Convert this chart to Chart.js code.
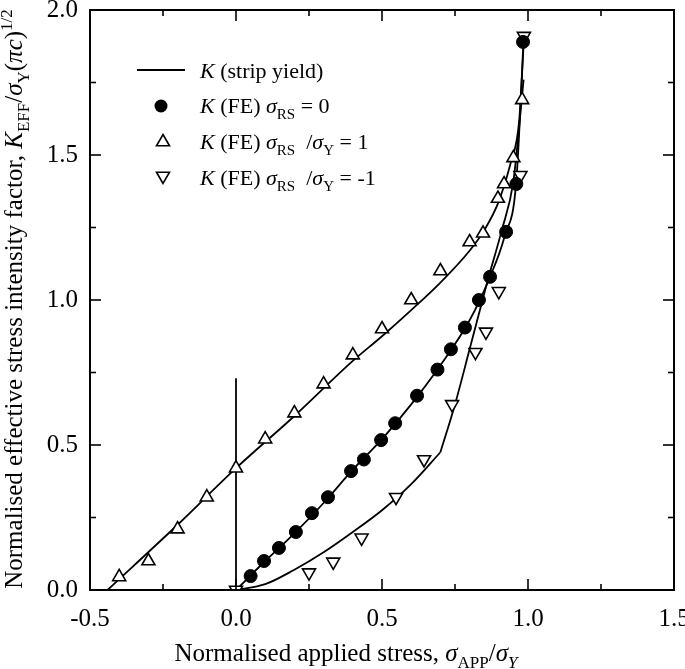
<!DOCTYPE html>
<html lang="en">
<head>
<meta charset="UTF-8">
<title>Normalised effective stress intensity factor</title>
<script src="https://cdn.jsdelivr.net/npm/chart.js@4.4.1/dist/chart.umd.min.js"></script>
<style>
  html, body { margin: 0; padding: 0; background: #fff; }
  canvas { display: block; }
</style>
</head>
<body>
<canvas id="chart" width="685" height="669"></canvas>
<script>
// axis ticks
const xTicks = [-0.5, 0.0, 0.5, 1.0, 1.5];
const yTicks = [0.0, 0.5, 1.0, 1.5, 2.0];

// K (strip yield) curves
const stripPosX = [-0.44, -0.2, 0.0, 0.2, 0.4, 0.5, 0.6, 0.7, 0.8, 0.85, 0.9, 0.94, 0.97, 0.985];
const stripPosY = [0.0, 0.225, 0.42, 0.6, 0.79, 0.875, 0.965, 1.06, 1.17, 1.24, 1.34, 1.47, 1.62, 1.88];

const stripZeroX = [0.0, 0.1, 0.2, 0.3, 0.4, 0.5, 0.6, 0.7, 0.8, 0.87, 0.92, 0.96, 0.985];
const stripZeroY = [0.0, 0.1, 0.195, 0.3, 0.415, 0.52, 0.64, 0.775, 0.93, 1.08, 1.22, 1.41, 1.9];

// the sigma_RS/sigma_Y = -1 curve has a corner at about 0.7, kept as two pieces
const stripNegLowX = [0.0, 0.1, 0.2, 0.3, 0.4, 0.5, 0.6, 0.7];
const stripNegLowY = [0.0, 0.02, 0.07, 0.13, 0.2, 0.275, 0.365, 0.475];
const stripNegHighX = [0.7, 0.75, 0.8, 0.86, 0.91, 0.95, 0.985];
const stripNegHighY = [0.475, 0.64, 0.83, 1.06, 1.24, 1.41, 1.76];

// vertical line at zero applied stress
const guideX = [0.0, 0.0];
const guideY = [0.0, 0.73];

// K (FE) sigma_RS = 0
const feZeroX = [0.05, 0.096, 0.147, 0.205, 0.26, 0.315, 0.394, 0.438, 0.497, 0.545, 0.62, 0.69, 0.736, 0.784, 0.832, 0.87, 0.925, 0.96, 0.983];
const feZeroY = [0.048, 0.10, 0.145, 0.20, 0.265, 0.32, 0.41, 0.45, 0.517, 0.575, 0.67, 0.76, 0.83, 0.905, 1.00, 1.08, 1.235, 1.40, 1.89];

// K (FE) sigma_RS / sigma_Y = 1
const fePosX = [-0.40, -0.30, -0.20, -0.10, 0.00, 0.10, 0.20, 0.30, 0.40, 0.50, 0.60, 0.70, 0.80, 0.846, 0.897, 0.918, 0.95, 0.98];
const fePosY = [0.045, 0.10, 0.21, 0.32, 0.42, 0.52, 0.61, 0.71, 0.81, 0.90, 1.00, 1.10, 1.20, 1.23, 1.35, 1.40, 1.49, 1.69];

// K (FE) sigma_RS / sigma_Y = -1
const feNegX = [0.0, 0.25, 0.333, 0.43, 0.548, 0.644, 0.74, 0.82, 0.856, 0.90, 0.974, 0.986];
const feNegY = [0.0, 0.06, 0.097, 0.18, 0.32, 0.45, 0.64, 0.82, 0.89, 1.03, 1.43, 1.91];

const SERIF = '"Liberation Serif", "Times New Roman", serif';

function pts(xs, ys) {
  return xs.map((x, i) => ({ x: x, y: ys[i] }));
}

function curve(label, xs, ys, smooth) {
  return {
    label: label,
    data: pts(xs, ys),
    showLine: true,
    borderColor: '#000',
    borderWidth: 1.8,
    pointRadius: 0,
    cubicInterpolationMode: smooth ? 'monotone' : 'default',
    tension: 0,
  };
}

// draw a run of text pieces with italic / subscript / superscript parts
function drawRuns(ctx, parts, x, y, size, align) {
  const fontFor = p => {
    const small = p.s === 'sub' || p.s === 'isub' || p.s === 'sup';
    const italic = p.s === 'i' || p.s === 'isub';
    return (italic ? 'italic ' : '') + (small ? Math.round(size * 0.66) : size) + 'px ' + SERIF;
  };
  let total = 0;
  for (const p of parts) { ctx.font = fontFor(p); total += ctx.measureText(p.t).width; }
  let cx = align === 'center' ? x - total / 2 : x;
  ctx.textAlign = 'left';
  ctx.textBaseline = 'alphabetic';
  for (const p of parts) {
    ctx.font = fontFor(p);
    let dy = 0;
    if (p.s === 'sub' || p.s === 'isub') dy = size * 0.27;
    if (p.s === 'sup') dy = -size * 0.42;
    ctx.fillText(p.t, cx, y + dy);
    cx += ctx.measureText(p.t).width;
  }
}

function drawTriangle(ctx, x, y, r, down) {
  ctx.beginPath();
  for (let k = 0; k < 3; k++) {
    const a = (down ? Math.PI : 0) + k * 2 * Math.PI / 3;
    const px = x + Math.sin(a) * r, py = y - Math.cos(a) * r;
    if (k === 0) ctx.moveTo(px, py); else ctx.lineTo(px, py);
  }
  ctx.closePath();
  ctx.fillStyle = '#fff';
  ctx.fill();
  ctx.stroke();
}

const paperPlugin = {
  id: 'paper',
  afterDraw(chart) {
    const { ctx, chartArea: a, scales: { x, y } } = chart;
    ctx.save();
    ctx.strokeStyle = '#000';
    ctx.fillStyle = '#000';

    // frame
    ctx.lineWidth = 2;
    ctx.strokeRect(a.left, a.top, a.right - a.left, a.bottom - a.top);

    // inward ticks on all four sides, minor ticks halfway
    ctx.lineWidth = 1.6;
    const seg = (x1, y1, x2, y2) => { ctx.beginPath(); ctx.moveTo(x1, y1); ctx.lineTo(x2, y2); ctx.stroke(); };
    xTicks.forEach((v, i) => {
      const px = x.getPixelForValue(v);
      seg(px, a.bottom, px, a.bottom - 11);
      seg(px, a.top, px, a.top + 11);
      if (i < xTicks.length - 1) {
        const mx = x.getPixelForValue((v + xTicks[i + 1]) / 2);
        seg(mx, a.bottom, mx, a.bottom - 6);
        seg(mx, a.top, mx, a.top + 6);
      }
    });
    yTicks.forEach((v, i) => {
      const py = y.getPixelForValue(v);
      seg(a.left, py, a.left + 11, py);
      seg(a.right, py, a.right - 11, py);
      if (i < yTicks.length - 1) {
        const my = y.getPixelForValue((v + yTicks[i + 1]) / 2);
        seg(a.left, my, a.left + 6, my);
        seg(a.right, my, a.right - 6, my);
      }
    });

    // x axis title
    drawRuns(ctx, [
      { t: 'Normalised applied stress, ' },
      { t: '\u03c3', s: 'i' }, { t: 'APP', s: 'sub' },
      { t: '/' },
      { t: '\u03c3', s: 'i' }, { t: 'Y', s: 'isub' },
    ], 346, 661, 25, 'center');

    // y axis title
    ctx.save();
    ctx.translate(22, 299);
    ctx.rotate(-Math.PI / 2);
    drawRuns(ctx, [
      { t: 'Normalised effective stress intensity factor, ' },
      { t: 'K', s: 'i' }, { t: 'EFF', s: 'sub' },
      { t: '/' },
      { t: '\u03c3', s: 'i' }, { t: 'Y', s: 'sub' },
      { t: '(' }, { t: '\u03c0c', s: 'i' }, { t: ')' },
      { t: '1/2', s: 'sup' },
    ], 0, 0, 25, 'center');
    ctx.restore();

    // legend
    const lx = 163, tx = 200, fs = 22;
    ctx.lineWidth = 1.8;
    seg(137, 70, 185, 70);
    drawRuns(ctx, [{ t: 'K', s: 'i' }, { t: ' (strip yield)' }], tx, 78, fs);

    ctx.beginPath(); ctx.arc(lx - 2, 106, 6.5, 0, Math.PI * 2); ctx.fill();
    drawRuns(ctx, [{ t: 'K', s: 'i' }, { t: ' (FE) ' }, { t: '\u03c3', s: 'i' }, { t: 'RS', s: 'sub' }, { t: ' = 0' }], tx, 113, fs);

    ctx.lineWidth = 1.6;
    drawTriangle(ctx, lx, 142, 7.5, false);
    ctx.fillStyle = '#000';
    drawRuns(ctx, [{ t: 'K', s: 'i' }, { t: ' (FE) ' }, { t: '\u03c3', s: 'i' }, { t: 'RS', s: 'sub' }, { t: '  /' }, { t: '\u03c3', s: 'i' }, { t: 'Y', s: 'sub' }, { t: ' = 1' }], tx, 149, fs);

    drawTriangle(ctx, lx, 176, 7.5, true);
    ctx.fillStyle = '#000';
    drawRuns(ctx, [{ t: 'K', s: 'i' }, { t: ' (FE) ' }, { t: '\u03c3', s: 'i' }, { t: 'RS', s: 'sub' }, { t: '  /' }, { t: '\u03c3', s: 'i' }, { t: 'Y', s: 'sub' }, { t: ' = -1' }], tx, 185, fs);

    ctx.restore();
  }
};

new Chart(document.getElementById('chart'), {
  type: 'scatter',
  data: {
    datasets: [
      {
        label: 'K (FE) sigma_RS = 0',
        data: pts(feZeroX, feZeroY),
        pointStyle: 'circle',
        pointRadius: 6.5,
        backgroundColor: '#000',
        borderColor: '#000',
        borderWidth: 1,
      },
      {
        label: 'K (FE) sigma_RS/sigma_Y = 1',
        data: pts(fePosX, fePosY),
        pointStyle: 'triangle',
        pointRadius: 7.5,
        backgroundColor: '#fff',
        borderColor: '#000',
        borderWidth: 1.6,
      },
      {
        label: 'K (FE) sigma_RS/sigma_Y = -1',
        data: pts(feNegX, feNegY),
        pointStyle: 'triangle',
        rotation: 180,
        pointRadius: 7.5,
        backgroundColor: '#fff',
        borderColor: '#000',
        borderWidth: 1.6,
      },
      curve('K (strip yield) 1', stripPosX, stripPosY, true),
      curve('K (strip yield) 0', stripZeroX, stripZeroY, true),
      curve('K (strip yield) -1 a', stripNegLowX, stripNegLowY, true),
      curve('K (strip yield) -1 b', stripNegHighX, stripNegHighY, true),
      curve('guide', guideX, guideY, false),
    ]
  },
  options: {
    responsive: false,
    animation: false,
    layout: { padding: { top: 10, right: 11, left: 0, bottom: 0 } },
    plugins: {
      legend: { display: false },
      tooltip: { enabled: false },
    },
    scales: {
      x: {
        type: 'linear',
        min: -0.5,
        max: 1.5,
        afterBuildTicks: s => { s.ticks = xTicks.map(v => ({ value: v })); },
        ticks: {
          callback: v => v.toFixed(1),
          font: { family: SERIF, size: 25 },
          color: '#000',
          padding: 14,
          maxRotation: 0,
        },
        grid: { display: false, drawTicks: false },
        border: { display: false },
        afterFit: s => { s.height = 79; s.paddingLeft = 0; s.paddingRight = 0; },
      },
      y: {
        type: 'linear',
        min: 0,
        max: 2,
        afterBuildTicks: s => { s.ticks = yTicks.map(v => ({ value: v })); },
        ticks: {
          callback: v => v.toFixed(1),
          font: { family: SERIF, size: 25 },
          color: '#000',
          padding: 12,
        },
        grid: { display: false, drawTicks: false },
        border: { display: false },
        afterFit: s => { s.width = 90; s.paddingTop = 0; s.paddingBottom = 0; },
      },
    },
  },
  plugins: [paperPlugin],
});
</script>
</body>
</html>
